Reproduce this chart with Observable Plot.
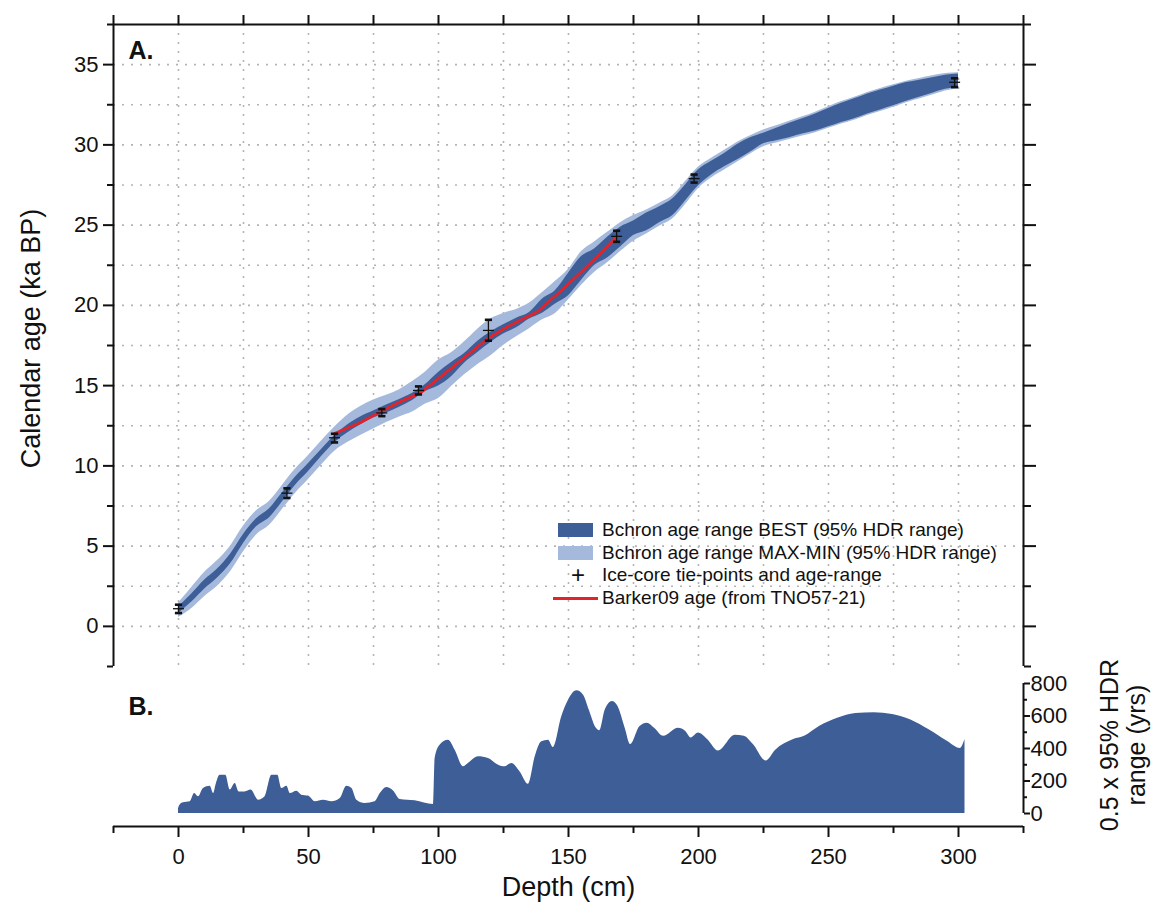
<!DOCTYPE html>
<html>
<head>
<meta charset="utf-8">
<script src="https://cdn.jsdelivr.net/npm/d3@7"></script>
<script src="https://cdn.jsdelivr.net/npm/@observablehq/plot@0.6"></script>
<style>
  html, body { margin: 0; padding: 0; background: #fff; }
  #wrap { position: relative; width: 1153px; height: 907px; font-family: "Liberation Sans", Arial, sans-serif; color: #111; }
  #panelA, #panelB { position: absolute; left: 0; }
  #panelA { top: 0; }
  #panelB { top: 680px; }
  #legend { position: absolute; left: 553px; top: 519px; font-size: 19px; line-height: 22.5px; }
  .row { display: flex; align-items: center; height: 22.5px; white-space: nowrap; }
  .key { width: 49px; height: 22.5px; position: relative; flex: none; }
  .sw { position: absolute; left: 5px; top: 4px; width: 35px; height: 14px; }
  .plus { position: absolute; left: 15px; width: 20px; top: 0; text-align: center; font-size: 24px; line-height: 22px; font-weight: 300; }
  .red { position: absolute; left: 0; top: 10px; width: 45px; height: 3px; background: #e1242b; }
</style>
</head>
<body>
<div id="wrap">
  <div id="panelA"></div>
  <div id="panelB"></div>
  <div id="legend"></div>
</div>
<script>
// ---------- Panel A data (depth in cm, calendar age in ka BP) ----------
const depthA = [
  0, 5, 10, 15, 20, 25, 30, 35, 40, 45,
  50, 55, 60, 65, 70, 75, 80, 85, 90, 95,
  100, 105, 110, 115, 120, 125, 130, 135, 140, 145,
  150, 155, 160, 165, 170, 175, 180, 185, 190, 195,
  200, 205, 210, 215, 220, 225, 230, 235, 240, 245,
  250, 255, 260, 265, 270, 275, 280, 285, 290, 295,
  300
];
const ageMid = [
  1.0, 1.75, 2.6, 3.3, 4.2, 5.45, 6.45, 7.05, 8.05, 9.05,
  9.9, 10.8, 11.65, 12.3, 12.8, 13.2, 13.55, 13.9, 14.3, 14.85,
  15.4, 16.0, 16.7, 17.4, 18.0, 18.5, 18.9, 19.35, 19.95, 20.5,
  21.3, 22.3, 23.0, 23.6, 24.25, 24.8, 25.2, 25.65, 26.1, 27.0,
  27.95, 28.55, 29.05, 29.55, 30.0, 30.4, 30.65, 30.9, 31.15, 31.4,
  31.7, 32.0, 32.25, 32.55, 32.8, 33.05, 33.3, 33.5, 33.7, 33.9,
  34.0
];
// half-width of BEST 95% HDR band (ka)
const bestHalf = [
  0.2, 0.25, 0.28, 0.28, 0.3, 0.28, 0.25, 0.28, 0.28, 0.25,
  0.25, 0.22, 0.22, 0.25, 0.25, 0.22, 0.25, 0.24, 0.22, 0.22,
  0.42, 0.44, 0.3, 0.35, 0.33, 0.29, 0.3, 0.2, 0.44, 0.42,
  0.7, 0.74, 0.52, 0.65, 0.62, 0.45, 0.55, 0.5, 0.52, 0.5,
  0.5, 0.43, 0.42, 0.48, 0.45, 0.33, 0.39, 0.45, 0.47, 0.53,
  0.57, 0.6, 0.62, 0.62, 0.62, 0.61, 0.58, 0.53, 0.48, 0.44,
  0.42
];
// half-width of MAX-MIN 95% HDR band (ka)
const maxMinHalf = [
  0.45, 0.65, 0.75, 0.8, 0.8, 0.8, 0.75, 0.75, 0.75, 0.75,
  0.75, 0.75, 0.75, 0.85, 0.9, 0.9, 0.85, 0.85, 0.95, 1.0,
  1.2, 1.05, 1.03, 1.1, 1.15, 1.0, 0.85, 0.8, 0.85, 1.0,
  0.95, 1.05, 0.95, 0.95, 0.9, 0.8, 0.75, 0.72, 0.72, 0.72,
  0.67, 0.62, 0.62, 0.62, 0.57, 0.52, 0.54, 0.57, 0.6, 0.64,
  0.67, 0.7, 0.72, 0.72, 0.72, 0.7, 0.67, 0.64, 0.6, 0.54,
  0.5
];

// Barker09 age (from TNO57-21)
const barkerDepth = [60, 70, 78, 86, 93, 100, 110, 119, 128, 138, 147, 155, 162, 168];
const barkerAge = [12.02, 12.7, 13.4, 14.05, 14.55, 15.45, 16.75, 17.95, 18.8, 19.6, 20.9, 22.1, 23.2, 24.2];

// Ice-core tie-points and age range
const tieDepth = [0, 41.7, 60, 78.2, 92.3, 119.2, 168.5, 198.3, 298.5];
const tieAge = [1.1, 8.3, 11.75, 13.3, 14.7, 18.44, 24.3, 27.9, 33.9];
const tieLo = [0.83, 8.0, 11.46, 13.1, 14.45, 17.8, 23.96, 27.65, 33.6];
const tieHi = [1.35, 8.6, 12.0, 13.54, 14.95, 19.1, 24.65, 28.15, 34.15];

// ---------- Panel B data (0.5 x 95% HDR range, years) ----------
const hdrDepth = [
  0, 0.5, 1.9, 4.5, 6.2, 7.7, 9.6, 12.2, 13.5, 14.5,
  16.0, 18.2, 19.9, 21.8, 23.3, 25.6, 27.9, 30.8, 33.3, 35.9,
  38.2, 39.7, 41.7, 43.0, 45.5, 47.4, 50.0, 52.6, 55.8, 59.0,
  62.2, 64.7, 66.7, 68.6, 71.8, 75.6, 77.6, 80.1, 82.7, 85.3,
  91.0, 98.1, 98.7, 100.6, 103.8, 106.4, 109.6, 111.5, 115.4, 119.2,
  123.1, 125.6, 128.2, 131.4, 134.6, 137.2, 139.7, 142.3, 144.2, 147.4,
  150.0, 153.2, 155.8, 158.0, 160.5, 162.0, 164.1, 166.9, 169.0, 171.8,
  173.9, 177.5, 180.3, 183.1, 186.6, 192.3, 195.1, 197.2, 200.0, 203.5,
  207.7, 214.1, 217.6, 221.1, 226.0, 229.6, 236.6, 240.8, 246.5, 253.5,
  260.5, 267.6, 274.6, 281.7, 288.7, 295.7, 300.7, 302.5
];
const hdrValue = [
  30, 50, 66, 72, 123, 103, 154, 168, 123, 180,
  236, 236, 144, 185, 133, 133, 144, 82, 103, 236,
  236, 154, 168, 123, 137, 113, 107, 72, 82, 72,
  92, 168, 154, 82, 62, 72, 123, 160, 139, 86,
  78, 55, 338, 420, 451, 390, 287, 308, 349, 338,
  297, 287, 308, 256, 180, 349, 441, 451, 406, 595,
  697, 755, 728, 636, 530, 510, 636, 690, 660, 525,
  424, 535, 556, 525, 475, 525, 505, 465, 495, 455,
  384, 481, 475, 424, 323, 388, 455, 475, 535, 586,
  616, 620, 610, 576, 515, 444, 400, 455
];

// ---------- ticks ----------
const depthTicks = [0, 50, 100, 150, 200, 250, 300];
const depthMinor = [-25, 25, 75, 125, 175, 225, 275, 325];
const depthGrid = [0, 25, 50, 75, 100, 125, 150, 175, 200, 225, 250, 275, 300];
const ageTicks = [0, 5, 10, 15, 20, 25, 30, 35];
const ageMinor = [-2.5, 2.5, 7.5, 12.5, 17.5, 22.5, 27.5, 32.5, 37.5];
const ageGrid = [0, 2.5, 5, 7.5, 10, 12.5, 15, 17.5, 20, 22.5, 25, 27.5, 30, 32.5, 35];
const hdrTicks = [0, 200, 400, 600, 800];
const hdrMinor = [100, 300, 500, 700];

const legendItems = [
  {kind: "dark", label: "Bchron age range BEST (95% HDR range)"},
  {kind: "light", label: "Bchron age range MAX-MIN (95% HDR range)"},
  {kind: "plus", label: "Ice-core tie-points and age-range"},
  {kind: "red", label: "Barker09 age (from TNO57-21)"}
];

// ---------- colours ----------
const DARK = "#3e5e97";
const LIGHT = "#a5b9dc";
const RED = "#e1242b";
const GRID = "#b4b4b4";

const bandA = depthA.map((d, i) => ({depth: d, mid: ageMid[i], best: bestHalf[i], wide: maxMinHalf[i]}));
const barker = barkerDepth.map((d, i) => ({depth: d, age: barkerAge[i]}));
const ties = tieDepth.map((d, i) => ({depth: d, age: tieAge[i], lo: tieLo[i], hi: tieHi[i]}));
const hdr = hdrDepth.map((d, i) => ({depth: d, value: hdrValue[i]}));

const hline = {draw(ctx, size) { const r = Math.sqrt(size / Math.PI); ctx.moveTo(-r, 0); ctx.lineTo(r, 0); }};
const blank = () => "";
const FONT = "Liberation Sans, Arial, sans-serif";

const A = Plot.plot({
  width: 1153, height: 680,
  marginLeft: 113, marginRight: 130, marginTop: 24, marginBottom: 14,
  x: {domain: [-25, 325]},
  y: {domain: [-2.5, 37.5]},
  style: {fontFamily: FONT, fontSize: "22px", color: "#111", background: "transparent", overflow: "visible"},
  marks: [
    Plot.gridX(depthGrid, {stroke: GRID, strokeOpacity: 1, strokeWidth: 1.6, strokeDasharray: "2,7"}),
    Plot.gridY(ageGrid, {stroke: GRID, strokeOpacity: 1, strokeWidth: 1.6, strokeDasharray: "2,7"}),
    Plot.areaY(bandA, {x: "depth", y1: d => d.mid - d.wide, y2: d => d.mid + d.wide, fill: LIGHT, curve: "monotone-x"}),
    Plot.areaY(bandA, {x: "depth", y1: d => d.mid - d.best, y2: d => d.mid + d.best, fill: DARK, curve: "monotone-x"}),
    Plot.line(barker, {x: "depth", y: "age", stroke: RED, strokeWidth: 2.8}),
    Plot.ruleX(ties, {x: "depth", y1: "lo", y2: "hi", stroke: "#111", strokeWidth: 1.3}),
    Plot.dot(ties, {x: "depth", y: "lo", symbol: hline, r: 3.6, fill: "none", stroke: "#111", strokeWidth: 2.6}),
    Plot.dot(ties, {x: "depth", y: "hi", symbol: hline, r: 3.6, fill: "none", stroke: "#111", strokeWidth: 2.6}),
    Plot.dot(ties, {x: "depth", y: "age", symbol: hline, r: 5.5, fill: "none", stroke: "#111", strokeWidth: 1.3}),
    Plot.ruleX([-25, 325], {stroke: "#111", strokeWidth: 2}),
    Plot.ruleY([37.5], {stroke: "#111", strokeWidth: 2}),
    Plot.axisY(ageTicks, {anchor: "left", tickSize: 10, tickPadding: 5, strokeWidth: 2, fontSize: 22, label: null}),
    Plot.axisY(ageMinor, {anchor: "left", tickSize: 6, tickFormat: blank, strokeWidth: 2, label: null}),
    Plot.axisY(ageTicks, {anchor: "right", tickSize: 12, tickFormat: blank, strokeWidth: 2, label: null}),
    Plot.axisY(ageMinor, {anchor: "right", tickSize: 7, tickFormat: blank, strokeWidth: 2, label: null}),
    Plot.axisX(depthTicks.concat(depthMinor), {anchor: "top", tickSize: 10, tickFormat: blank, strokeWidth: 2, label: null}),
    Plot.text(["Calendar age (ka BP)"], {frameAnchor: "left", dx: -82, dy: -7, rotate: -90, textAnchor: "middle", fontSize: 27, fill: "#111"}),
    Plot.text(["A."], {frameAnchor: "top-left", dx: 15, dy: 17, fontSize: 25, fontWeight: "bold", fill: "#111"})
  ]
});
document.getElementById("panelA").appendChild(A);

const B = Plot.plot({
  width: 1153, height: 227,
  marginLeft: 113, marginRight: 130, marginTop: 3, marginBottom: 81,
  x: {domain: [-25, 325]},
  y: {domain: [-80, 800]},
  style: {fontFamily: FONT, fontSize: "22px", color: "#111", background: "transparent", overflow: "visible"},
  marks: [
    Plot.areaY(hdr, {x: "depth", y: "value", fill: DARK, curve: "monotone-x"}),
    Plot.ruleY([-80], {stroke: "#111", strokeWidth: 2}),
    Plot.ruleX([325], {y1: 0, y2: 800, stroke: "#111", strokeWidth: 2}),
    Plot.axisX(depthTicks, {anchor: "bottom", tickSize: 11, tickPadding: 11, strokeWidth: 2, fontSize: 22, label: null}),
    Plot.axisX(depthMinor, {anchor: "bottom", tickSize: 7, tickFormat: blank, strokeWidth: 2, label: null}),
    Plot.axisY(hdrTicks, {anchor: "right", tickSize: 6, tickPadding: 1, strokeWidth: 2, fontSize: 22, label: null}),
    Plot.axisY(hdrMinor, {anchor: "right", tickSize: 3, tickFormat: blank, strokeWidth: 2, label: null}),
    Plot.text(["Depth (cm)"], {frameAnchor: "bottom", dy: 69, fontSize: 27, fill: "#111"}),
    Plot.text(["0.5 x 95% HDR\nrange (yrs)"], {frameAnchor: "right", dx: 99, dy: -10, rotate: -90, textAnchor: "middle", lineHeight: 1.1, fontSize: 25, fill: "#111"}),
    Plot.text(["B."], {frameAnchor: "top-left", dx: 15, dy: 14, fontSize: 25, fontWeight: "bold", fill: "#111"})
  ]
});
document.getElementById("panelB").appendChild(B);

// legend
const leg = d3.select("#legend");
legendItems.forEach(item => {
  const row = leg.append("div").attr("class", "row");
  const key = row.append("div").attr("class", "key");
  if (item.kind === "dark") key.append("div").attr("class", "sw").style("background", DARK);
  if (item.kind === "light") key.append("div").attr("class", "sw").style("background", LIGHT);
  if (item.kind === "plus") key.append("div").attr("class", "plus").text("+");
  if (item.kind === "red") key.append("div").attr("class", "red");
  row.append("span").text(item.label);
});
</script>
</body>
</html>
